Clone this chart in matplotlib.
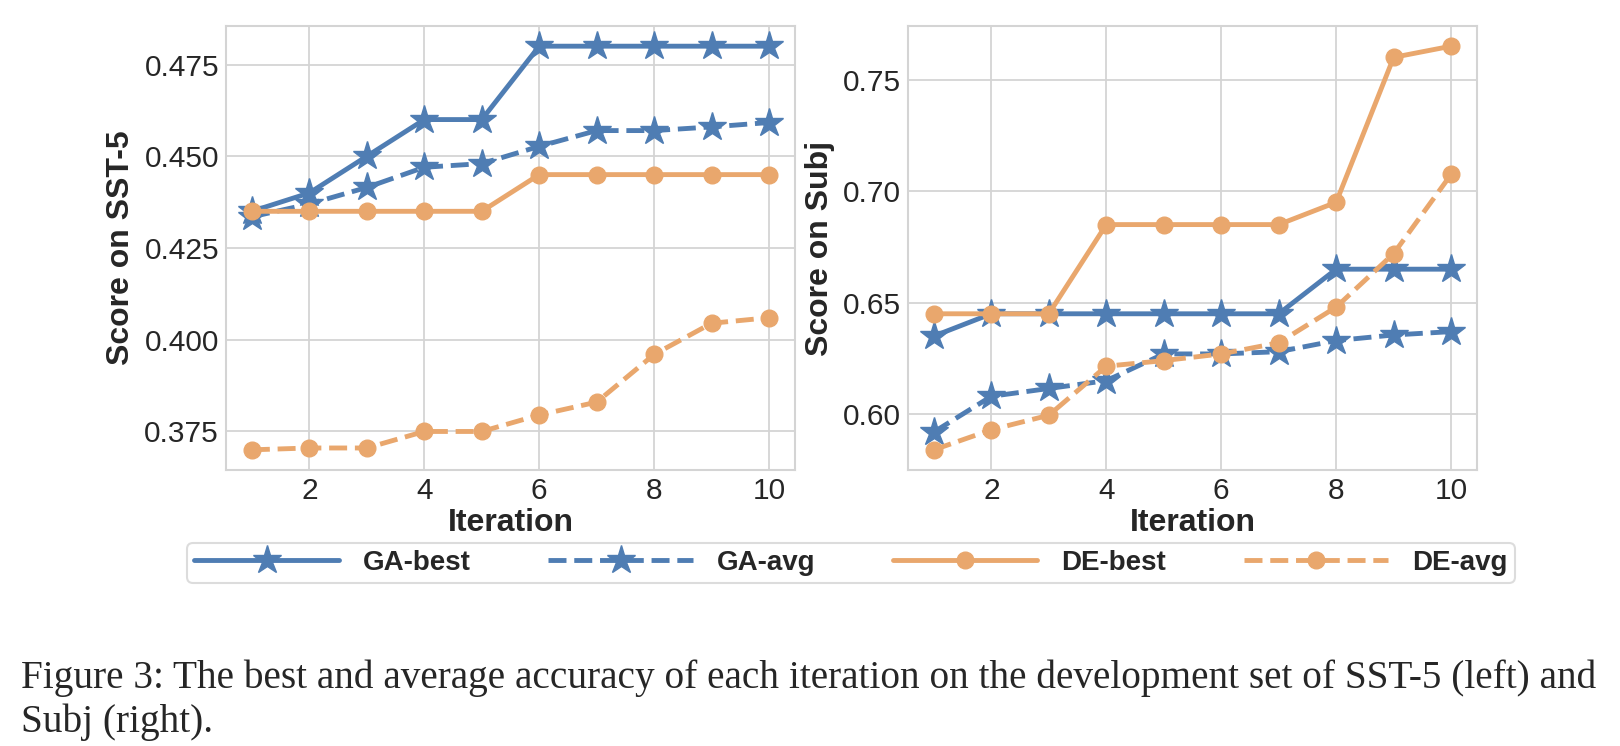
import matplotlib
matplotlib.use("Agg")
import matplotlib.pyplot as plt

iterations = [1, 2, 3, 4, 5, 6, 7, 8, 9, 10]

sst_ga_best = [0.435, 0.440, 0.450, 0.460, 0.460, 0.480, 0.480, 0.480, 0.480, 0.480]
sst_ga_avg = [0.4335, 0.437, 0.4415, 0.447, 0.448, 0.4527, 0.457, 0.457, 0.458, 0.4592]
sst_de_best = [0.435, 0.435, 0.435, 0.435, 0.435, 0.445, 0.445, 0.445, 0.445, 0.445]
sst_de_avg = [0.370, 0.3705, 0.3705, 0.375, 0.375, 0.3795, 0.383, 0.396, 0.4045, 0.406]

subj_ga_best = [0.635, 0.645, 0.645, 0.645, 0.645, 0.645, 0.645, 0.665, 0.665, 0.665]
subj_ga_avg = [0.592, 0.608, 0.6115, 0.615, 0.627, 0.627, 0.628, 0.633, 0.6355, 0.637]
subj_de_best = [0.645, 0.645, 0.645, 0.685, 0.685, 0.685, 0.685, 0.695, 0.760, 0.765]
subj_de_avg = [0.584, 0.593, 0.5995, 0.6215, 0.624, 0.627, 0.632, 0.648, 0.672, 0.7075]

series_labels = ["GA-best", "GA-avg", "DE-best", "DE-avg"]
ylabels = ["Score on SST-5", "Score on Subj"]
xlabel = "Iteration"
caption_lines = [
    "Figure 3: The best and average accuracy of each iteration on the development set of SST-5 (left) and",
    "Subj (right).",
]

BLUE = "#4f7db3"
ORANGE = "#e9a76d"
GRID = "#d4d4d4"

plt.style.use("seaborn-v0_8-whitegrid")
plt.rcParams["font.family"] = ["Liberation Sans", "DejaVu Sans"]

fig = plt.figure(figsize=(16.2, 7.46), dpi=100)
W, H = 1620, 746

def add_ax(x0, x1, ytop, ybot):
    return fig.add_axes([x0 / W, 1 - ybot / H, (x1 - x0) / W, (ybot - ytop) / H])

ax1 = add_ax(226, 795, 26, 470)
ax2 = add_ax(908, 1477, 26, 470)

styles = [
    dict(color=BLUE, linestyle="-", marker="*", markersize=21),
    dict(color=BLUE, linestyle="--", marker="*", markersize=21),
    dict(color=ORANGE, linestyle="-", marker="o", markersize=12),
    dict(color=ORANGE, linestyle="--", marker="o", markersize=12),
]

for ax, data, yl in [
    (ax1, [sst_ga_best, sst_ga_avg, sst_de_best, sst_de_avg], ylabels[0]),
    (ax2, [subj_ga_best, subj_ga_avg, subj_de_best, subj_de_avg], ylabels[1]),
]:
    for vals, st, lab in zip(data, styles, series_labels):
        ax.plot(iterations, vals, linewidth=3.5, label=lab, **st)
    ax.set_xticks([2, 4, 6, 8, 10])
    ax.tick_params(axis="both", labelsize=21.5, length=0, pad=5)
    ax.set_xlabel(xlabel, fontsize=23, fontweight="bold", labelpad=2)
    ax.set_ylabel(yl, fontsize=23, fontweight="bold", labelpad=6)
    ax.grid(True, color=GRID, linewidth=1.3)
    for sp in ax.spines.values():
        sp.set_color(GRID)
        sp.set_linewidth(1.5)

ax1.set_yticks([0.375, 0.400, 0.425, 0.450, 0.475])
ax1.set_yticklabels(["0.375", "0.400", "0.425", "0.450", "0.475"])
ax2.set_yticks([0.60, 0.65, 0.70, 0.75])
ax2.set_yticklabels(["0.60", "0.65", "0.70", "0.75"])

handles, labels = ax1.get_legend_handles_labels()
leg = fig.legend(handles, labels, loc="center", bbox_to_anchor=(851 / W, 1 - 563 / H),
                 ncol=4, frameon=True, fancybox=True,
                 prop={"weight": "bold", "size": 20}, handlelength=5.2,
                 handletextpad=0.86, columnspacing=2.8, borderpad=0.25)
leg.get_frame().set_edgecolor(GRID)
leg.get_frame().set_linewidth(1.5)

fig.text(21 / W, 1 - 688 / H, caption_lines[0], fontsize=28.3, family="Liberation Serif",
         ha="left", va="baseline")
fig.text(21 / W, 1 - 732 / H, caption_lines[1], fontsize=28.3, family="Liberation Serif",
         ha="left", va="baseline")

fig.savefig("out.png", dpi=100)
